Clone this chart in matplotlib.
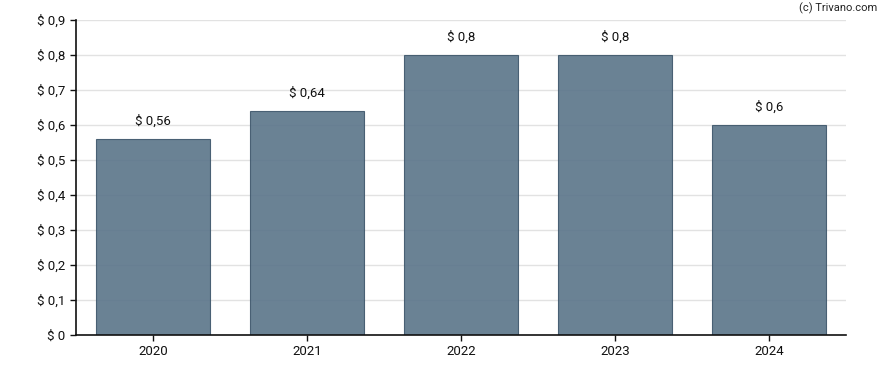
import matplotlib.pyplot as plt
import numpy as np

plt.rcParams['font.family'] = ['Roboto', 'DejaVu Sans']

years = ['2020', '2021', '2022', '2023', '2024']
values = [0.56, 0.64, 0.8, 0.8, 0.6]
labels = ['$ 0,56', '$ 0,64', '$ 0,8', '$ 0,8', '$ 0,6']
yticks = [0, 0.1, 0.2, 0.3, 0.4, 0.5, 0.6, 0.7, 0.8, 0.9]
ytick_labels = ['$ 0', '$ 0,1', '$ 0,2', '$ 0,3', '$ 0,4', '$ 0,5', '$ 0,6', '$ 0,7', '$ 0,8', '$ 0,9']

fig = plt.figure(figsize=(8.88, 3.7), dpi=100)
ax = fig.add_axes([76 / 888, 35 / 370, (846 - 76) / 888, (335 - 20) / 370])

x = np.arange(len(years))
ax.bar(x, values, width=0.74, color='#5a7489', alpha=0.9,
       edgecolor='#3d566b', linewidth=0.8, zorder=2)
for xi, v, t in zip(x, values, labels):
    ax.annotate(t, (xi, v), xytext=(0, 8), textcoords='offset points',
                ha='center', va='bottom', fontsize=9.5, color='#111111')

ax.set_xlim(-0.5, len(years) - 0.5)
ax.set_ylim(0, 0.9)
ax.set_xticks(x)
ax.set_xticklabels(years)
ax.set_yticks(yticks)
ax.set_yticklabels(ytick_labels)
ax.tick_params(labelsize=9.5, colors='#111111', length=4, width=1)
ax.yaxis.grid(True, color='#e2e2e2', linewidth=1, zorder=1)
ax.set_axisbelow(True)
for s in ['top', 'right']:
    ax.spines[s].set_visible(False)
for s in ['left', 'bottom']:
    ax.spines[s].set_linewidth(1.2)
    ax.spines[s].set_color('#111111')

fig.text(877 / 888, 1 - 8 / 370, '(c) Trivano.com', ha='right', va='center',
         fontsize=8, color='#222222')

fig.savefig('out.png', dpi=100)
